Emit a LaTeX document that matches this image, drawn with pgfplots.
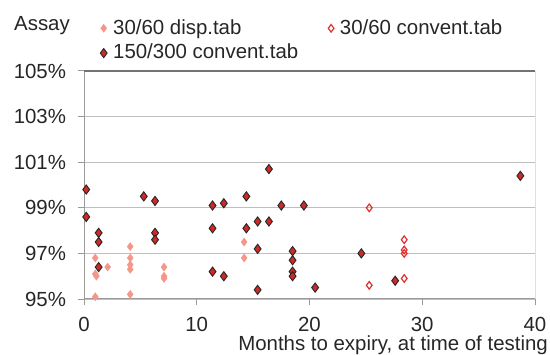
\documentclass[border=0pt]{standalone}
\usepackage{fontspec}
\setmainfont{Liberation Sans}
\usepackage{pgfplots}
\pgfplotsset{compat=1.18}
\definecolor{darkred}{HTML}{CC2A26}
\definecolor{salmon}{HTML}{F4968A}
\definecolor{openred}{HTML}{E0302C}
\definecolor{gridgray}{HTML}{BFBFBF}
\definecolor{axgray}{HTML}{9A9A9A}
\begin{document}
\fontsize{20.5}{24}\selectfont
\begin{tikzpicture}
\path[use as bounding box] (0,0) rectangle (550bp,355bp);
\begin{axis}[
  at={(84bp,56bp)}, anchor=south west,
  scale only axis, width=451bp, height=228bp,
  xmin=0, xmax=40, ymin=95, ymax=105,
  xtick={0,10,20,30,40}, ytick={95,97,99,101,103,105},
  xtick pos=lower, ytick pos=left,
  tick align=outside, major tick length=6bp,
  tick style={axgray, line width=1bp},
  axis line style={draw=none},
  ymajorgrids, grid style={gridgray, line width=1.2bp},
  /pgf/number format/assume math mode=true,
  tick label style={font=\fontsize{20.5}{24}\selectfont, text=black!85},
  xticklabel style={yshift=-5bp},
  yticklabel style={xshift=-5bp},
  yticklabel={\pgfmathprintnumber{\tick}\%},
  legend image code/.code={\draw[#1] plot coordinates {(0bp,0bp)};},
  legend style={draw=none, fill=none, at={(0.029,1.245)}, anchor=north west,
    font=\fontsize{20.5}{24}\selectfont, text=black!85, row sep=3bp,
    /tikz/every odd column/.append style={column sep=4bp},
    /tikz/every even column/.append style={column sep=28bp}},
  legend columns=2, legend cell align=left,
]
\addplot[only marks, mark=diamond*, mark size=4bp, color=salmon, mark options={fill=salmon, draw=salmon}] coordinates {
(1.0,96.8) (1.0,96.1) (1.1,96.0) (1.0,95.1) (2.1,96.4)
(4.1,97.3) (4.1,96.8) (4.1,96.5) (4.1,96.3) (4.1,95.2)
(7.1,96.4) (7.1,96.0) (7.1,95.9)
(14.2,97.5) (14.2,96.8)
};
\addlegendentry{30/60 disp.tab}
\addplot[only marks, mark=diamond, mark size=3.8bp, color=openred, mark options={draw=openred, fill=white, line width=1.2bp}] coordinates {
(25.3,99.0) (25.3,95.6) (28.4,97.6) (28.4,97.15) (28.4,97.0) (28.4,95.9)
};
\addlegendentry{30/60 convent.tab}
\addplot[only marks, mark=diamond*, mark size=4.6bp, mark options={fill=darkred, draw=black!85, line width=0.9bp}] coordinates {
(0.2,99.8) (0.2,98.6) (1.3,97.9) (1.3,97.5) (1.3,96.4)
(5.3,99.5) (6.3,99.3) (6.3,97.9) (6.3,97.6)
(11.4,99.1) (12.4,99.2) (11.4,98.1) (11.4,96.2) (12.4,96.0)
(16.4,100.7) (14.4,99.5) (17.5,99.1) (19.5,99.1)
(14.4,98.1) (15.4,98.4) (16.4,98.4) (15.4,97.2)
(18.5,97.1) (18.5,96.7) (18.5,96.2) (18.5,96.0)
(15.4,95.4) (20.5,95.5) (24.6,97.0) (27.6,95.8) (38.7,100.4)
};
\addlegendentry{150/300 convent.tab}
\draw[axgray, line width=1.2bp] (rel axis cs:0,0) -- (rel axis cs:1,0);
\draw[axgray, line width=1.2bp] (rel axis cs:0,0) -- (rel axis cs:0,1);
\draw[black!55, line width=1.2bp] (rel axis cs:0,1) -- (rel axis cs:1,1);
\draw[black, line width=1bp] (rel axis cs:1,0) -- (rel axis cs:1,1);
\end{axis}
\node[anchor=base west, inner sep=0pt, text=black!85] at (14bp,324.3bp) {Assay};
\node[anchor=base east, inner sep=0pt, text=black!85] at (548bp,4.5bp) {Months to expiry, at time of testing};
\end{tikzpicture}
\end{document}
